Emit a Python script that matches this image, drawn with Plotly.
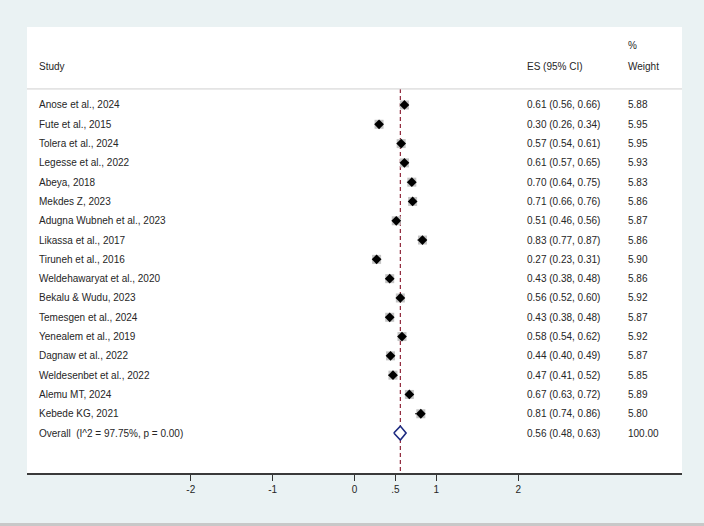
import plotly.graph_objects as go

studies = ["Anose et al., 2024", "Fute et al., 2015", "Tolera et al., 2024", "Legesse et al., 2022",
           "Abeya, 2018", "Mekdes Z, 2023", "Adugna Wubneh et al., 2023", "Likassa et al., 2017",
           "Tiruneh et al., 2016", "Weldehawaryat et al., 2020", "Bekalu & Wudu, 2023",
           "Temesgen et al., 2024", "Yenealem et al., 2019", "Dagnaw et al., 2022",
           "Weldesenbet et al., 2022", "Alemu MT, 2024", "Kebede KG, 2021"]
es = [0.61, 0.30, 0.57, 0.61, 0.70, 0.71, 0.51, 0.83, 0.27, 0.43, 0.56, 0.43, 0.58, 0.44, 0.47, 0.67, 0.81]
lo = [0.56, 0.26, 0.54, 0.57, 0.64, 0.66, 0.46, 0.77, 0.23, 0.38, 0.52, 0.38, 0.54, 0.40, 0.41, 0.63, 0.74]
hi = [0.66, 0.34, 0.61, 0.65, 0.75, 0.76, 0.56, 0.87, 0.31, 0.48, 0.60, 0.48, 0.62, 0.49, 0.52, 0.72, 0.86]
weights = [5.88, 5.95, 5.95, 5.93, 5.83, 5.86, 5.87, 5.86, 5.90, 5.86, 5.92, 5.87, 5.92, 5.87, 5.85, 5.89, 5.80]
overall_label = "Overall  (I^2 = 97.75%, p = 0.00)"
overall_es, overall_lo, overall_hi, overall_w = 0.56, 0.48, 0.63, 100.00

tick_vals = [-2, -1, 0, 0.5, 1, 2]
tick_text = ["-2", "-1", "0", ".5", "1", "2"]

FONT = "Liberation Sans, Arial, sans-serif"
TXT = "#262626"
rows = list(range(len(studies)))
orow = len(studies)

fig = go.Figure()

# CI lines
cx, cy = [], []
for i in rows:
    cx += [lo[i], hi[i], None]
    cy += [i, i, None]
fig.add_trace(go.Scatter(x=cx, y=cy, mode="lines", line=dict(color="black", width=1),
                         hoverinfo="skip", showlegend=False))
# weight boxes
fig.add_trace(go.Scatter(x=es, y=rows, mode="markers",
                         marker=dict(symbol="square", size=9, color="#c4c4c4", line=dict(width=0)),
                         showlegend=False))
# point estimates
fig.add_trace(go.Scatter(x=es, y=rows, mode="markers",
                         marker=dict(symbol="diamond", size=7.5, color="black", line=dict(width=0)),
                         showlegend=False))
# overall diamond
h = 0.36
fig.add_trace(go.Scatter(x=[overall_lo, overall_es, overall_hi, overall_es, overall_lo],
                         y=[orow, orow - h, orow, orow + h, orow], mode="lines",
                         fill="toself", fillcolor="white",
                         line=dict(color="#1c2a80", width=1.6), showlegend=False))

# dashed overall line
fig.add_shape(type="line", x0=overall_es, x1=overall_es, y0=-0.83, y1=19.07,
              line=dict(color="#8e2438", width=1.2, dash="4px,3px"), layer="below")
# header separator
fig.add_shape(type="line", xref="paper", x0=0, x1=1, y0=-0.83, y1=-0.83,
              line=dict(color="#cfcfcf", width=1))
# bottom grey strip of the image
fig.add_shape(type="rect", xref="paper", yref="paper", x0=-0.05, x1=1.05, y0=-0.119, y1=-0.112,
              line=dict(width=0), fillcolor="#c8c8c8")

X_STUDY, X_ES, X_W = -3.878, 2.085, 3.317
ann = []
def add(x, y, t):
    ann.append(dict(x=x, y=y, text=t, xanchor="left", yanchor="middle", showarrow=False,
                    font=dict(family=FONT, size=10, color=TXT)))

add(X_STUDY, -1.97, "Study")
add(X_ES, -1.97, "ES (95% CI)")
add(X_W, -1.97, "Weight")
add(X_W, -3.06, "%")
for i in rows:
    add(X_STUDY, i, studies[i])
    add(X_ES, i, f"{es[i]:.2f} ({lo[i]:.2f}, {hi[i]:.2f})")
    add(X_W, i, f"{weights[i]:.2f}")
add(X_STUDY, orow, overall_label)
add(X_ES, orow, f"{overall_es:.2f} ({overall_lo:.2f}, {overall_hi:.2f})")
add(X_W, orow, f"{overall_w:.2f}")

fig.update_layout(
    width=704, height=526,
    margin=dict(l=27, r=22, t=27, b=53),
    paper_bgcolor="#eaf2f3", plot_bgcolor="white",
    annotations=ann,
    xaxis=dict(range=[-4, 4], tickvals=tick_vals, ticktext=tick_text, ticks="outside",
               ticklen=6, tickwidth=1.2, tickcolor="#333", showline=True, linecolor="#3a3a3a",
               linewidth=1.5, showgrid=False, zeroline=False,
               tickfont=dict(family=FONT, size=10, color=TXT), fixedrange=True),
    yaxis=dict(range=[19.07, -4.04], visible=False, showgrid=False, zeroline=False),
    font=dict(family=FONT),
)

fig.write_html("out.html", config={"displayModeBar": False},
               post_script="document.body.style.margin='0';document.body.style.overflow='hidden';")
